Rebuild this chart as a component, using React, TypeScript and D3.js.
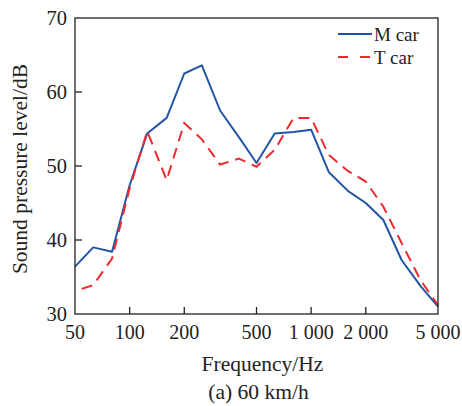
import React from "react";
import * as d3 from "d3";

const frequencies = [50, 63, 80, 100, 125, 160, 200, 250, 315, 400, 500, 630, 800, 1000, 1250, 1600, 2000, 2500, 3150, 4000, 5000];
const mCar = [36.4, 39.0, 38.4, 47.4, 54.4, 56.5, 62.5, 63.6, 57.5, 53.9, 50.4, 54.4, 54.6, 54.9, 49.2, 46.6, 45.0, 42.7, 37.3, 33.8, 31.0];
const tCar = [33.1, 33.9, 37.5, 47.0, 54.7, 48.1, 55.8, 53.6, 50.2, 51.0, 49.9, 52.2, 56.5, 56.5, 51.5, 49.3, 47.9, 44.5, 39.6, 34.6, 31.2];
const xTicks = [50, 100, 200, 500, 1000, 2000, 5000];
const xTickLabels = ["50", "100", "200", "500", "1 000", "2 000", "5 000"];
const yTicks = [30, 40, 50, 60, 70];
const seriesNames = ["M car", "T car"];

const W = 462;
const H = 406;
const L = 75, R = 438, T = 18, B = 314;
const FONT = "'Liberation Serif', 'Times New Roman', serif";
const BLUE = "#2455a4";
const RED = "#ec2a2e";

export default function App() {
  const x = d3.scaleLog().domain([50, 5000]).range([L, R]);
  const y = d3.scaleLinear().domain([30, 70]).range([B, T]);
  const line = d3.line<[number, number]>().x(d => x(d[0])).y(d => y(d[1]));
  const mPath = line(frequencies.map((f, i) => [f, mCar[i]]) as [number, number][]) || "";
  const tPath = line(frequencies.map((f, i) => [f, tCar[i]]) as [number, number][]) || "";

  return (
    <svg width={W} height={H} style={{ position: "absolute", left: 0, top: 0, background: "#fff" }} fontFamily={FONT}>
      <rect x={0} y={0} width={W} height={H} fill="#fff" />
      {/* lines */}
      <path d={mPath} fill="none" stroke={BLUE} strokeWidth={2} strokeLinejoin="round" />
      <path d={tPath} fill="none" stroke={RED} strokeWidth={2} strokeDasharray="11,7" strokeDashoffset={11} />
      {/* frame */}
      <rect x={L} y={T} width={R - L} height={B - T} fill="none" stroke="#222" strokeWidth={1.3} />
      {/* x ticks */}
      {xTicks.map((t, i) => (
        <g key={"x" + t}>
          {i > 0 && i < xTicks.length - 1 && (
            <line x1={x(t)} x2={x(t)} y1={B} y2={B - 7} stroke="#222" strokeWidth={1.3} />
          )}
          <text x={x(t)} y={338.5} textAnchor="middle" fontSize={20} fill="#222">{xTickLabels[i]}</text>
        </g>
      ))}
      {/* y ticks */}
      {yTicks.map((t, i) => (
        <g key={"y" + t}>
          {i > 0 && i < yTicks.length - 1 && (
            <line x1={L} x2={L + 7} y1={y(t)} y2={y(t)} stroke="#222" strokeWidth={1.3} />
          )}
          <text x={67} y={y(t) + 7} textAnchor="end" fontSize={20.5} fill="#222">{t}</text>
        </g>
      ))}
      {/* axis titles */}
      <text x={(L + R) / 2 + 6} y={371} textAnchor="middle" fontSize={21.5} fill="#222">Frequency/Hz</text>
      <text x={(L + R) / 2 + 2} y={399} textAnchor="middle" fontSize={21.5} fill="#222">(a) 60 km/h</text>
      <text transform={`translate(27, ${(T + B) / 2 + 3}) rotate(-90)`} textAnchor="middle" fontSize={21.5} fill="#222">Sound pressure level/dB</text>
      {/* legend */}
      <line x1={338} x2={372} y1={34} y2={34} stroke={BLUE} strokeWidth={2} />
      <text x={374} y={40.5} fontSize={19} fill="#222">{seriesNames[0]}</text>
      <line x1={338} x2={372} y1={57} y2={57} stroke={RED} strokeWidth={2} strokeDasharray="10,12" />
      <text x={374} y={64} fontSize={19} fill="#222">{seriesNames[1]}</text>
    </svg>
  );
}
